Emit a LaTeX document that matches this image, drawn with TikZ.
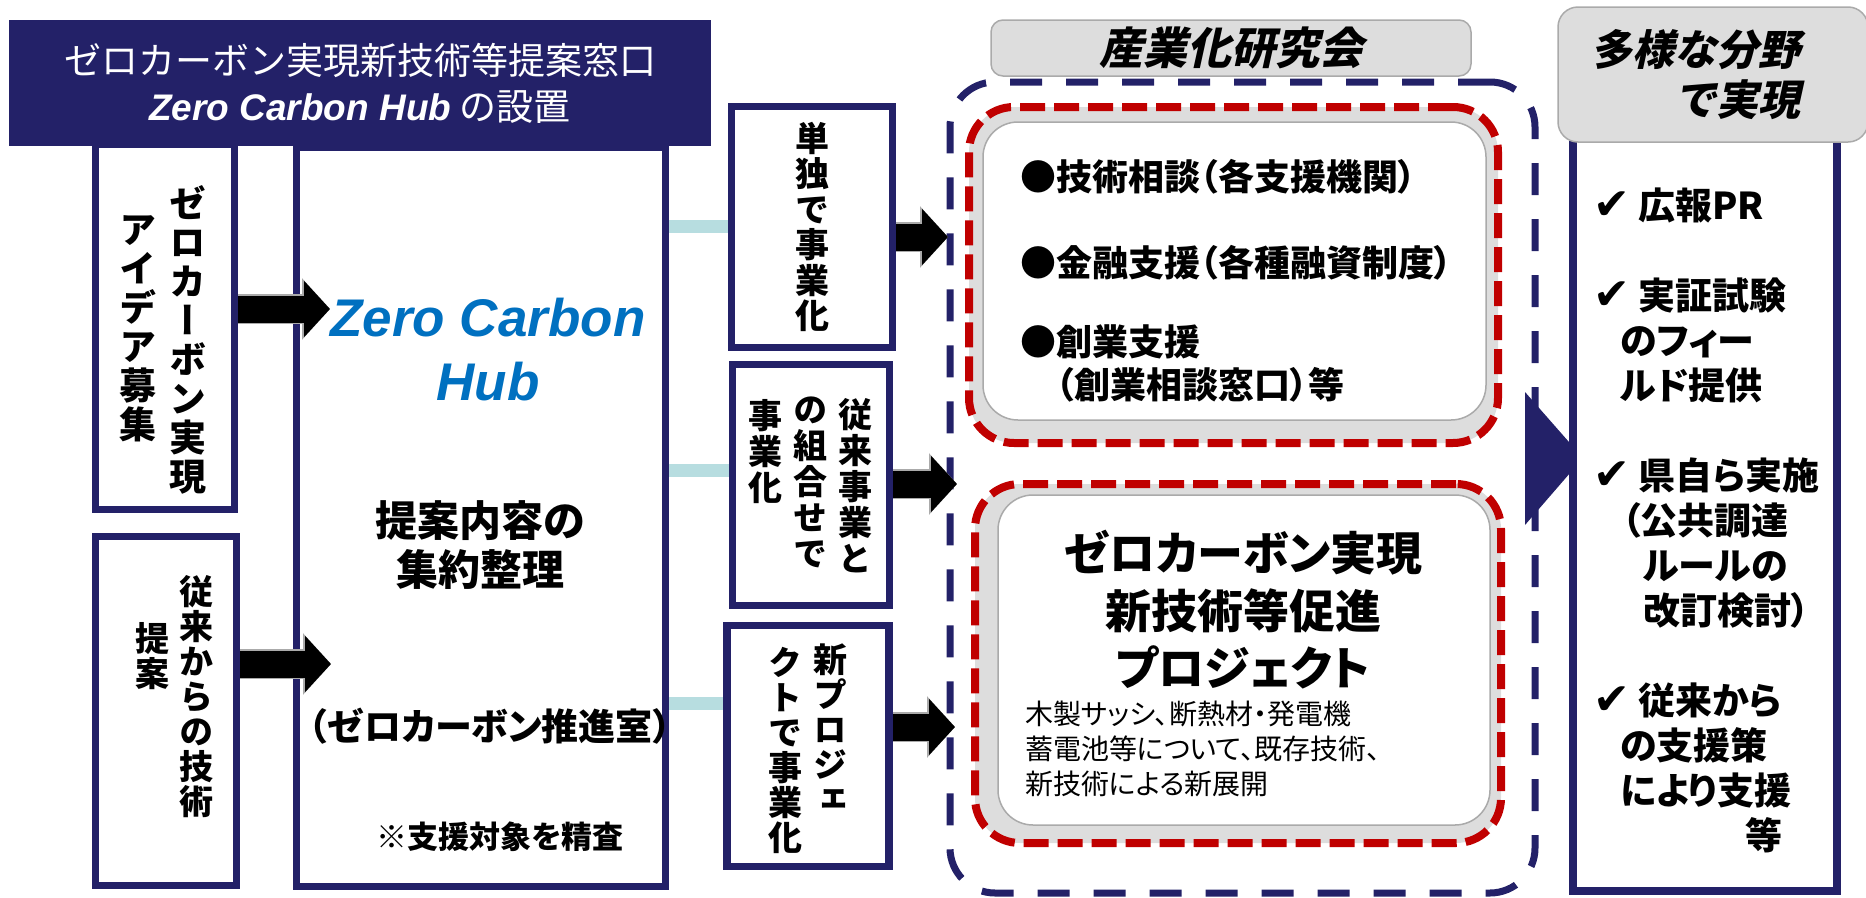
\documentclass[tikz,border=0pt]{standalone}
\usepackage{fontspec}
\usepackage{xcolor}
\usepackage{tikz}
\usetikzlibrary{arrows.meta, positioning}
\setmainfont{Noto Sans CJK JP}
\newfontfamily\jpfont{Noto Sans CJK JP}
\newfontfamily\jpp{Noto Sans CJK JP}[RawFeature=+palt]
\newfontfamily\jpv{Noto Sans CJK JP}[RawFeature=+vert]
\newfontfamily\jpsl{Noto Sans CJK JP}[FakeSlant=0.22]
\newfontfamily\arialfont{Liberation Sans}
\newfontfamily\symfont{DejaVu Sans}
\newcommand{\setfs}[2]{\fontsize{#1}{#2}\selectfont}
\newcommand{\chk}{{\symfont\bfseries\fontsize{44}{45}\selectfont ✔}}
\definecolor{hubnavy}{RGB}{35,33,104}
\definecolor{hubblue}{RGB}{0,112,192}
\definecolor{zcred}{RGB}{192,0,0}
\definecolor{feedblue}{RGB}{183,221,224}
\definecolor{labelfill}{RGB}{221,221,221}
\definecolor{labelgray}{RGB}{170,170,170}
\tikzset{
    navybox/.style={rectangle, draw=hubnavy, line width=7.5pt, fill=white, inner sep=0pt},
    tate/.style args={#1/#2}{font=\jpv\bfseries\setfs{#1}{#2}, align=center, inner sep=0pt},
    feed/.style={draw=feedblue, line width=13pt},
    bigarrow/.style={draw=black, line width=27pt, -{Triangle[length=26pt, width=55pt]},
        preaction={draw=labelgray, line width=30pt, -{Triangle[length=28pt, width=60pt]}}},
    graylabel/.style={rectangle, rounded corners=12pt, draw=labelgray, fill=labelfill, line width=1.5pt},
    reddash/.style={rectangle, rounded corners=45pt, draw=zcred, fill=labelfill, line width=8pt, dash pattern=on 25pt off 9pt},
    innerbox/.style={rectangle, rounded corners=35pt, draw=labelgray, fill=white, line width=1.5pt}
}

\begin{document}
\begin{tikzpicture}[x=1pt, y=-1pt]
\useasboundingbox (0,0) rectangle (1866,897);

% 産業化研究会 (dashed frame)
\node (council) [rectangle, rounded corners=45pt, draw=hubnavy, line width=7pt, dash pattern=on 32pt off 24pt, minimum width=585pt, minimum height=811pt] at (1242.5,487.5) {};

\node (hub) [navybox, minimum width=369pt, minimum height=739pt] at (481,517) {};
\node (hubname) [font=\arialfont\bfseries\itshape\setfs{53}{64}, text=hubblue, align=center] at (488,350) {Zero Carbon\\Hub};
\node (hubtask) [font=\jpfont\bfseries\setfs{42}{49}, align=center] at (480,545) {提案内容の\\集約整理};
\node (hubdept) [font=\jpp\bfseries\setfs{37}{44}] at (490,726) {（ゼロカーボン推進室）};
\node (hubnote) [font=\jpp\bfseries\setfs{31}{36}] at (500,837) {※支援対象を精査};

\node (idea) [navybox, minimum width=139pt, minimum height=365pt] at (165,327) {};
\node (ideaA) [tate=37/39] at (188,340) {ゼ\\ロ\\カ\\ー\\ボ\\ン\\実\\現};
\node (ideaB) [tate=37/39] at (138,329) {ア\\イ\\デ\\ア\\募\\集};

\node (legacy) [navybox, minimum width=141pt, minimum height=349pt] at (166,711) {};
\node (legacyA) [tate=34/35] at (196,697) {従\\来\\か\\ら\\の\\技\\術};
\node (legacyB) [tate=34/35] at (152,656) {提\\案};

\node (head) [rectangle, fill=hubnavy, minimum width=702pt, minimum height=126pt, inner sep=0pt, text=white, align=center, font=\jpfont\setfs{37}{46}] at (360,83) {ゼロカーボン実現新技術等提案窓口\\{\arialfont\bfseries\itshape Zero Carbon Hub} の設置};

\node (solo) [navybox, minimum width=161pt, minimum height=241pt, tate=34/35.5] at (812,227) {単\\独\\で\\事\\業\\化};
\node (combo) [navybox, minimum width=157pt, minimum height=241pt] at (811,485) {};
\node (comboA) [tate=34/36] at (855,486) {従\\来\\事\\業\\と};
\node (comboB) [tate=34/36] at (810,482) {の\\組\\合\\せ\\で};
\node (comboC) [tate=34/36] at (765,452) {事\\業\\化};
\node (newproj) [navybox, minimum width=162pt, minimum height=241pt] at (808,746) {};
\node (newprojA) [tate=34/35] at (830,728) {新\\プ\\ロ\\ジ\\ェ};
\node (newprojB) [tate=34/35] at (785,750) {ク\\ト\\で\\事\\業\\化};

\coordinate (f1) at (700,226);
\coordinate (f2) at (700,470);
\coordinate (f3) at (700,703);
\draw[feed] (hub.east |- f1) -- (solo.west |- f1);
\draw[feed] (hub.east |- f2) -- (combo.west |- f2);
\draw[feed] (hub.east |- f3) -- (newproj.west |- f3);

\coordinate (tipidea) at (330,309);
\coordinate (tiplegacy) at (331,664);
\coordinate (tipsolo) at (948,237);
\coordinate (tipcombo) at (957,484);
\coordinate (tipnew) at (955,727);
\draw[bigarrow] (idea.east |- tipidea) -- (tipidea);
\draw[bigarrow] (legacy.east |- tiplegacy) -- (tiplegacy);
\draw[bigarrow] (solo.east |- tipsolo) -- (tipsolo);
\draw[bigarrow] (combo.east |- tipcombo) -- (tipcombo);
\draw[bigarrow] (newproj.east |- tipnew) -- (tipnew);

\node (councilname) [graylabel, minimum width=480pt, minimum height=56pt, font=\jpsl\bfseries\setfs{44}{50}] at (1231,48) {産業化研究会};

\node (support) [reddash, minimum width=529pt, minimum height=336pt] at (1233.5,275) {};
\node (supportin) [innerbox, minimum width=503pt, minimum height=298pt] at (1234.5,271) {};
\node (supportT) [font=\jpp\bfseries\setfs{36}{43}, align=left, anchor=north west, inner sep=0pt] at (1020,159) {●技術相談（各支援機関）\\[43pt]●金融支援（各種融資制度）\\[36pt]●創業支援\\\hspace*{36pt}（創業相談窓口）等};

\node (project) [reddash, minimum width=526pt, minimum height=359pt] at (1238,663.5) {};
\node (projectin) [innerbox, minimum width=492pt, minimum height=330pt] at (1244,660) {};
\node (projectT) [font=\jpp\bfseries\setfs{46}{57.5}, align=center] at (1243,610) {ゼロカーボン実現\\新技術等促進\\プロジェクト};
\node (projectD) [font=\jpp\setfs{28}{35}, align=left, anchor=north west, inner sep=0pt] at (1025,701) {木製サッシ、断熱材・発電機\\蓄電池等について、既存技術、\\新技術による新展開};

% arrow into the outcomes column
\fill[hubnavy] (1525,392) -- (1583,458) -- (1525,525) -- cycle;

\node (outcome) [navybox, line width=8pt, minimum width=264pt, minimum height=757pt] at (1705,512.5) {};
\node (outcomename) [graylabel, rounded corners=20pt, minimum width=310pt, minimum height=135pt] at (1713,74.5) {};
\node (outcomenameT) [font=\jpsl\bfseries\setfs{42}{50}, align=right] at (1695,75) {多様な分野\\で実現};
\node (outcomeT) [font=\jpp\bfseries\setfs{37}{45}, align=left, anchor=north west, inner sep=0pt] at (1593,188) {\chk\ 広報PR\\[45pt]\chk\ 実証試験\\\hspace*{27pt}のフィー\\\hspace*{27pt}ルド提供\\[45pt]\chk\ 県自ら実施\\\hspace*{29pt}（公共調達\\\hspace*{50pt}ルールの\\\hspace*{50pt}改訂検討）\\[45pt]\chk\ 従来から\\\hspace*{27pt}の支援策\\\hspace*{27pt}により支援\\\hspace*{152pt}等};
\end{tikzpicture}
\end{document}
